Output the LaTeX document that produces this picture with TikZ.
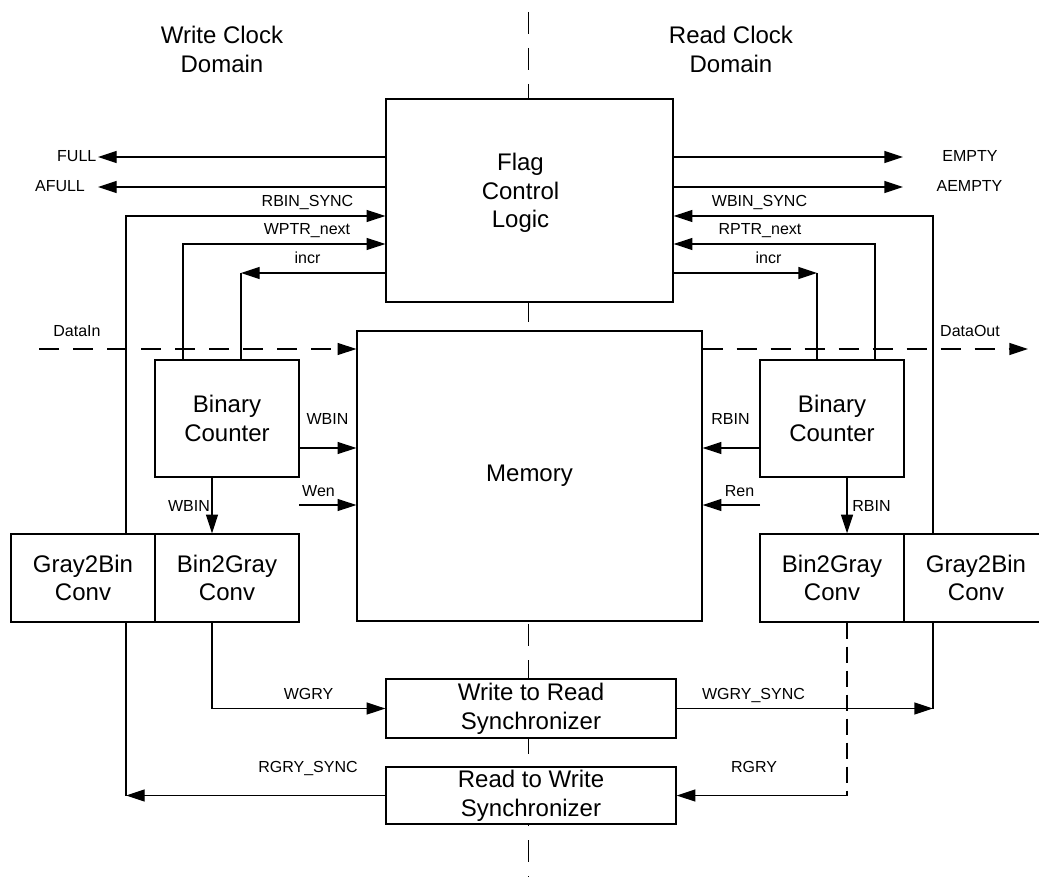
\documentclass[tikz,border=0pt]{standalone}
\usepackage{fontspec}
\setmainfont{Liberation Sans}
\usetikzlibrary{arrows.meta}
\newcommand{\bigfnt}{\fontsize{18}{21.5}\selectfont}
\newcommand{\smallfnt}{\fontsize{12}{14}\selectfont}
\begin{document}
\begin{tikzpicture}[x=0.75pt,y=-0.75pt,
  line width=1pt,
  box/.style={draw, fill=white, inner sep=0pt, align=center, font=\bigfnt},
  txt/.style={inner sep=0pt, align=center, font=\bigfnt},
  lbl/.style={inner sep=0pt, anchor=base, font=\smallfnt},
  arr/.style={-{Triangle[length=14pt,width=9pt]}},
  datadash/.style={dash pattern=on 15pt off 10.5pt},
  divider/.style={dash pattern=on 16.5pt off 10.5pt, dash phase=18pt},
  grydash/.style={dash pattern=on 12pt off 6pt},
  convw/.style={minimum width=108pt, minimum height=66pt},
  bcw/.style={minimum width=108pt, minimum height=87.75pt},
]
\useasboundingbox (0,0) rectangle (1039,877);

% clock-domain divider
\coordinate (divT) at (528.5,0);
\coordinate (divB) at (528.5,877);
\draw[divider] (divT) -- (divB);

% headers
\node[txt] (wcd) at (222,49.5) {Write Clock\\Domain};
\node[txt] (rcd) at (731,49.5) {Read Clock\\Domain};

% boxes
\node[box, minimum width=215.25pt, minimum height=152.25pt] (flag) at (529.5,200.5) {};
\node[txt] (flagtxt) at (520.5,193) {Flag\\Control\\Logic};
\node[box, minimum width=258.75pt, minimum height=217.5pt] (memory) at (529.5,476) {Memory};
\node[box, bcw] (bcL) at (227,418.5) {Binary\\Counter};
\node[box, bcw] (bcR) at (832,418.5) {Binary\\Counter};
\node[box, convw] (g2bL) at (83,578) {Gray2Bin\\Conv};
\node[box, convw] (b2gL) at (227,578) {Bin2Gray\\Conv};
\node[box, convw] (b2gR) at (832,578) {Bin2Gray\\Conv};
\node[box, convw] (g2bR) at (976,578) {Gray2Bin\\Conv};
\node[box, minimum width=217.5pt, minimum height=44.25pt] (w2r) at (531,708.5) {Write to Read\\Synchronizer};
\node[box, minimum width=217.5pt, minimum height=42.75pt] (r2w) at (531,795.5) {Read to Write\\Synchronizer};

% ---- left (write) side ----
\coordinate (fullE) at (98,157);
\draw[arr] (flag.west |- fullE) -- (fullE);
\node[lbl, anchor=base east] (fullL) at (97,162) {FULL};

\coordinate (afullE) at (98,187);
\draw[arr] (flag.west |- afullE) -- (afullE);
\node[lbl] (afullL) at (60,192) {AFULL};

\coordinate (rbsC) at (126,216);
\draw[arr] (g2bL.north -| rbsC) -- (rbsC) -- (flag.west |- rbsC);
\node[lbl] (rbsL) at (307.5,207) {RBIN\_SYNC};

\coordinate (wpC) at (183,244);
\draw[arr] (bcL.north -| wpC) -- (wpC) -- (flag.west |- wpC);
\node[lbl] (wpL) at (307,235) {WPTR\_next};

\coordinate (incLC) at (241,273);
\draw[arr] (flag.west |- incLC) -- (incLC);
\draw (incLC) -- (bcL.north -| incLC);
\node[lbl] (incLL) at (307.5,264) {incr};

\coordinate (dinS) at (39,349);
\draw[arr, datadash] (dinS) -- (memory.west |- dinS);
\node[lbl] (dinL) at (77,337) {DataIn};

\coordinate (wbinY) at (0,448);
\draw[arr] (bcL.east |- wbinY) -- (memory.west |- wbinY);
\node[lbl] (wbinL) at (327.5,424) {WBIN};

\coordinate (wenS) at (299,505);
\draw[arr] (wenS) -- (memory.west |- wenS);
\node[lbl] (wenL) at (318.5,496) {Wen};

\coordinate (wbdX) at (212,0);
\draw[arr] (bcL.south -| wbdX) -- (b2gL.north -| wbdX);
\node[lbl] (wbdL) at (189,511) {WBIN};

\coordinate (wgC) at (212,708.5);
\draw[arr] (b2gL.south -| wgC) -- (wgC) -- (w2r.west);
\node[lbl] (wgL) at (308.5,699) {WGRY};

\coordinate (rgsC) at (126,795.5);
\draw[arr] (r2w.west) -- (rgsC);
\draw (rgsC) -- (g2bL.south -| rgsC);
\node[lbl] (rgsL) at (308,772) {RGRY\_SYNC};

% ---- right (read) side ----
\coordinate (emptyE) at (903,157);
\draw[arr] (flag.east |- emptyE) -- (emptyE);
\node[lbl] (emptyL) at (970,162) {EMPTY};

\coordinate (aemptyE) at (903,187);
\draw[arr] (flag.east |- aemptyE) -- (aemptyE);
\node[lbl] (aemptyL) at (969.5,192) {AEMPTY};

\coordinate (wbsC) at (933,216);
\draw[arr] (g2bR.north -| wbsC) -- (wbsC) -- (flag.east |- wbsC);
\node[lbl] (wbsL) at (759.5,207) {WBIN\_SYNC};

\coordinate (rpC) at (875,244);
\draw[arr] (bcR.north -| rpC) -- (rpC) -- (flag.east |- rpC);
\node[lbl] (rpL) at (760,235) {RPTR\_next};

\coordinate (incRC) at (817,273);
\draw[arr] (flag.east |- incRC) -- (incRC);
\draw (incRC) -- (bcR.north -| incRC);
\node[lbl] (incRL) at (768.5,264) {incr};

\coordinate (doutE) at (1028,349);
\draw[arr, datadash] (memory.east |- doutE) -- (doutE);
\node[lbl] (doutL) at (970,337) {DataOut};

\draw[arr] (bcR.west |- wbinY) -- (memory.east |- wbinY);
\node[lbl] (rbinL) at (730.5,424) {RBIN};

\coordinate (renS) at (760,505);
\draw[arr] (renS) -- (memory.east |- renS);
\node[lbl] (renL) at (739.5,496) {Ren};

\coordinate (rbdX) at (847,0);
\draw[arr] (bcR.south -| rbdX) -- (b2gR.north -| rbdX);
\node[lbl] (rbdL) at (871.5,511) {RBIN};

\coordinate (wgsC) at (933,708.5);
\draw[arr] (w2r.east) -- (wgsC);
\draw (wgsC) -- (g2bR.south -| wgsC);
\node[lbl] (wgsL) at (753.5,699) {WGRY\_SYNC};

\coordinate (rgC) at (847,795.5);
\draw[grydash] (b2gR.south -| rgC) -- (rgC);
\draw[arr] (rgC) -- (r2w.east);
\node[lbl] (rgL) at (754,772) {RGRY};
\end{tikzpicture}
\end{document}
